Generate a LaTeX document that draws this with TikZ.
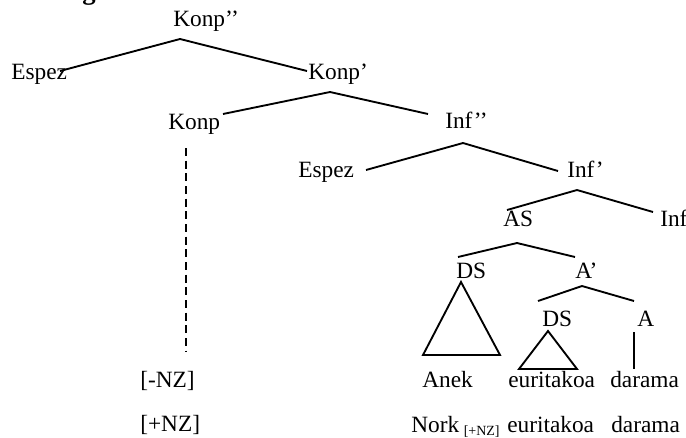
\documentclass[tikz,border=0pt]{standalone}
\usepackage{fontspec}
\setmainfont{Liberation Serif}
\usepackage{tikz}

\tikzset{
  lbl/.style={anchor=base west,inner sep=0.75pt,font=\fontsize{17.5}{20}\selectfont},
  branch/.style={line width=1.4pt,line join=miter}
}

\begin{document}
\begin{tikzpicture}[x=0.75pt,y=0.75pt,yscale=-1,xscale=1]
\useasboundingbox (0,0) rectangle (686,437);

% cut-off heading
\draw (82,-1) node [anchor=base west][inner sep=0pt] (head) {\fontsize{20}{22}\selectfont\bfseries g};

% labels
\draw (172,26) node [lbl] (konpbb) {Konp’’};
\draw (10,79) node [lbl] (espez1) {Espez};
\draw (307,79) node [lbl] (konpb) {Konp’};
\draw (167,129) node [lbl] (konp) {Konp};
\draw (444,128) node [lbl] (infbb) {Inf’’};
\draw (297,177) node [lbl] (espez2) {Espez};
\draw (566,177) node [lbl] (infb) {Inf’};
\draw (502,226) node [lbl] (as) {AS};
\draw (659,226) node [lbl] (inf) {Inf};
\draw (455,278) node [lbl] (ds1) {DS};
\draw (574,278) node [lbl] (ab) {A’};
\draw (541,326) node [lbl] (ds2) {DS};
\draw (636,326) node [lbl] (a) {A};
\draw (421,387) node [lbl] (anek) {Anek};
\draw (507,387) node [lbl] (eurit1) {euritakoa};
\draw (609,387) node [lbl] (darama1) {darama};
\draw (139,387) node [lbl] (minnz) {[-NZ]};
\draw (139,431) node [lbl] (plusnz) {[+NZ]};
\draw (410,432) node [lbl] (nork) {Nork};
\draw (nork.base east) ++(3,3) node [anchor=base west][inner sep=0pt] (nzsub) {\fontsize{10.5}{12}\selectfont [+NZ]};
\draw (506,432) node [lbl] (eurit2) {euritakoa};
\draw (610,432) node [lbl] (darama2) {darama};

% branch points
\coordinate (konpbb-t) at (180,39);  \coordinate (espez1-t) at (60,71);  \coordinate (konpb-l) at (307,71);
\coordinate (konpb-t) at (330,92);   \coordinate (konp-r) at (223,114);  \coordinate (infbb-l) at (428,114);
\coordinate (infbb-t) at (463,143);  \coordinate (espez2-r) at (366,170); \coordinate (infb-l) at (558,171);
\coordinate (infb-t) at (577,190);   \coordinate (as-t) at (507,210);    \coordinate (inf-t) at (653,212);
\coordinate (as-b) at (517,243);     \coordinate (ds1-t) at (458,257);   \coordinate (ab-t) at (575,257);
\coordinate (ab-b) at (582,286);     \coordinate (ds2-t) at (538,301);   \coordinate (a-t) at (634,301);
\coordinate (ds1-b) at (461,282);    \coordinate (anek-l) at (423,355);  \coordinate (anek-r) at (500,355);
\coordinate (ds2-b) at (548,331);    \coordinate (eurit-l) at (519,369); \coordinate (eurit-r) at (577,369);
\coordinate (a-b) at (634,332);      \coordinate (darama-t) at (634,369);
\coordinate (konp-b) at (186,148);   \coordinate (minnz-t) at (186,352);

% tree
\draw [branch] (espez1-t) -- (konpbb-t) -- (konpb-l) ;
\draw [branch] (konp-r) -- (konpb-t) -- (infbb-l) ;
\draw [branch] (espez2-r) -- (infbb-t) -- (infb-l) ;
\draw [branch] (as-t) -- (infb-t) -- (inf-t) ;
\draw [branch] (ds1-t) -- (as-b) -- (ab-t) ;
\draw [branch] (ds2-t) -- (ab-b) -- (a-t) ;
\draw [branch] (ds1-b) -- (anek-l) -- (anek-r) -- cycle ;
\draw [branch] (ds2-b) -- (eurit-l) -- (eurit-r) -- cycle ;
\draw [branch] (a-b) -- (darama-t) ;
\draw [branch,dash pattern=on 6pt off 3.5pt] (konp-b) -- (minnz-t) ;

\end{tikzpicture}
\end{document}
